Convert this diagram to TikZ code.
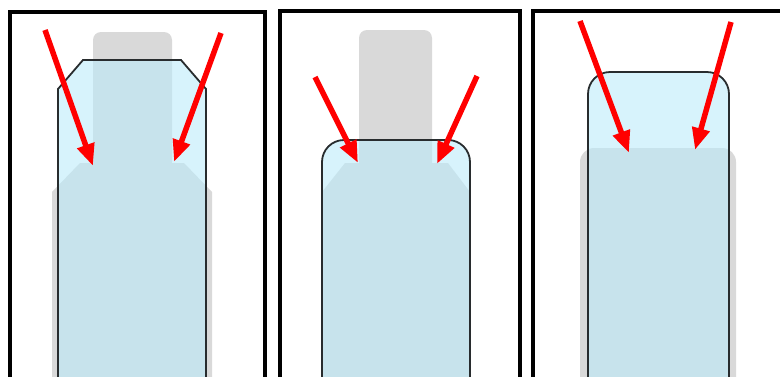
\documentclass[tikz,border=0pt]{standalone}
\usetikzlibrary{arrows.meta}
\definecolor{ghost}{RGB}{217,217,217}
\definecolor{glass}{RGB}{188,235,250}
\definecolor{edge}{RGB}{40,44,46}
\begin{document}
\begin{tikzpicture}[x=1pt, y=-1pt,
  frame/.style={draw=black, line width=3.5pt},
  ghostpart/.style={fill=ghost},
  glasspart/.style={fill=glass, fill opacity=0.6, draw=edge, line width=1.8pt},
  ray/.style={draw=red, line width=5.5pt, -{Triangle[length=22pt,width=17pt]}}]
  \useasboundingbox (0,0) rectangle (780,376);
  \clip (0,0) rectangle (780,376);
  % frames
  \draw[frame] (10,12) rectangle (265,380);
  \draw[frame] (280,11) rectangle (520,380);
  \draw[frame] (533,11) rectangle (790,380);

  % left panel: chamfered top
  \fill[ghostpart, rounded corners=8pt] (93,32) rectangle (172,175);
  \fill[ghostpart] (52,380) -- (52,192) -- (80,163) -- (184,163) -- (212,192) -- (212,380) -- cycle;
  \path[glasspart] (58,380) -- (58,89) -- (83,60) -- (181,60) -- (206,89) -- (206,380);

  % middle panel: low rounded top
  \fill[ghostpart, rounded corners=8pt] (359,30) rectangle (432,175);
  \fill[ghostpart] (322,380) -- (322,192) -- (345,163) -- (448,163) -- (470,192) -- (470,380) -- cycle;
  \path[glasspart, rounded corners=22pt] (322,380) -- (322,140) -- (470,140) -- (470,380);

  % right panel: high rounded top
  \fill[ghostpart, rounded corners=14pt] (580,148) rectangle (736,400);
  \path[glasspart, rounded corners=22pt] (588,380) -- (588,72) -- (729,72) -- (729,380);

  % rays
  \foreach \name/\sx/\sy/\tx/\ty in {la/45/30/93/166, ra/221/33/174/162,
      lb/315/77/358/163, rb/477/76/437/164,
      lc/580/21/629/153, rc/731/22/695/150} {
    \coordinate (\name-from) at (\sx,\sy);
    \coordinate (\name-to) at (\tx,\ty);
    \draw[ray] (\name-from) -- (\name-to);
  }
\end{tikzpicture}
\end{document}
